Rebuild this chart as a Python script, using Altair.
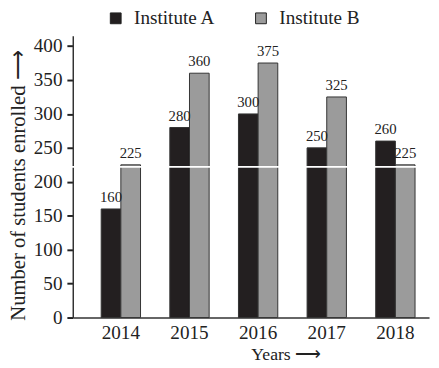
import altair as alt
import pandas as pd

years = ["2014", "2015", "2016", "2017", "2018"]
institute_a = [160, 280, 300, 250, 260]
institute_b = [225, 360, 375, 325, 225]
series = ["Institute A", "Institute B"]
y_ticks = [0, 50, 100, 150, 200, 250, 300, 350, 400]
break_value = 222

rows = []
for i, yr in enumerate(years):
    rows.append({"year": yr, "inst": series[0], "value": institute_a[i]})
    rows.append({"year": yr, "inst": series[1], "value": institute_b[i]})
df = pd.DataFrame(rows)

FONT = "Liberation Serif"
W, H = 363, 287

x_enc = alt.X(
    "year:N", sort=years,
    scale=alt.Scale(paddingInner=0.427, paddingOuter=0.309, align=0.67),
    axis=alt.Axis(
        title="Years ⟶", labelAngle=0, labelFontSize=19.5, labelFont=FONT,
        ticks=False, labelPadding=6, domainColor="#333", domainWidth=1.5,
        titleFont=FONT, titleFontSize=18, titleFontWeight="normal",
        titleX=217, titleY=43, titleBaseline="alphabetic", titleAlign="center",
        labelColor="#222", titleColor="#222",
    ),
)
y_enc = alt.Y(
    "value:Q",
    scale=alt.Scale(domain=[0, 415], nice=False),
    axis=alt.Axis(
        values=y_ticks, title="Number of students enrolled ⟶", grid=False,
        labelFont=FONT, labelFontSize=19.5, labelColor="#222", labelPadding=5,
        labelOverlap=False,
        tickSize=6, tickWidth=2, tickColor="#222",
        domainColor="#333", domainWidth=1.5,
        titleFont=FONT, titleFontSize=21, titleFontWeight="normal", titleColor="#222",
        titleX=-49, titleY=152, titleBaseline="alphabetic", titleAlign="center",
    ),
)
xo = alt.XOffset("inst:N", sort=series, scale=alt.Scale(paddingInner=0, paddingOuter=0))

bars = alt.Chart(df).mark_bar(stroke="#333", strokeWidth=1).encode(
    x=x_enc, xOffset=xo, y=y_enc,
    color=alt.Color(
        "inst:N",
        scale=alt.Scale(domain=series, range=["#231f20", "#9b9b9b"]),
        legend=alt.Legend(
            title=None, orient="none", legendX=34, legendY=-28,
            direction="horizontal", symbolType="square", symbolSize=121,
            symbolStrokeColor="#222", symbolStrokeWidth=1,
            labelFont=FONT, labelFontSize=19.5, labelOffset=9,
            columnPadding=36, labelColor="#222",
        ),
    ),
)

rule = alt.Chart(pd.DataFrame({"value": [break_value]})).mark_rule(
    color="white", strokeWidth=2
).encode(y=y_enc, x=alt.value(-6), x2=alt.value(W))

text = alt.Chart(df).mark_text(
    dy=-4, baseline="bottom", font=FONT, fontSize=15, color="#222"
).encode(x=x_enc, xOffset=xo, y=y_enc, text="value:Q")

chart = alt.layer(bars, rule, text).properties(
    width=W, height=H,
    padding={"left": 66, "top": 25, "right": 2, "bottom": 48},
    autosize=alt.AutoSizeParams(type="none"),
).configure_view(stroke=None)

chart.save("out.html", embed_options={"renderer": "svg", "actions": False})
